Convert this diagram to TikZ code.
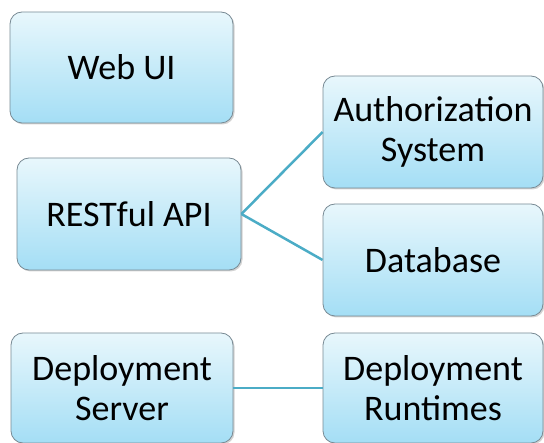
\documentclass[tikz,border=0pt]{standalone}
\usepackage{fontspec}
\setmainfont{Carlito}
\usetikzlibrary{shadows}
\definecolor{boxtop}{RGB}{232,247,252}
\definecolor{boxbottom}{RGB}{164,222,245}
\definecolor{boxline}{RGB}{120,138,148}
\definecolor{linkline}{RGB}{75,172,198}
\tikzset{
  part/.style={draw=boxline, line width=0.8pt, rounded corners=12pt,
    top color=boxtop, bottom color=boxbottom,
    drop shadow={shadow xshift=1.5pt, shadow yshift=-1.5pt, opacity=0.35},
    align=center, inner sep=0pt, font=\fontsize{36}{40}\selectfont},
  link/.style={draw=linkline, line width=2.5pt}
}
\begin{document}
\begin{tikzpicture}[x=1pt, y=-1pt]
  \useasboundingbox (0,0) rectangle (544,443);

  \node[part, minimum width=223pt, minimum height=111pt] (webui) at (121.5,67.5) {Web UI};
  \node[part, minimum width=224pt, minimum height=112pt] (rest) at (129,214) {RESTful API};
  \node[part, minimum width=220pt, minimum height=112pt] (auth) at (433,132) {Authorization\\System};
  \node[part, minimum width=220pt, minimum height=112pt] (db) at (433,260) {Database};
  \node[part, minimum width=222pt, minimum height=110pt] (depserver) at (122,388) {Deployment\\Server};
  \node[part, minimum width=220pt, minimum height=110pt] (runtimes) at (433,388) {Deployment\\Runtimes};

  \draw[link] (rest.east) -- (auth.west);
  \draw[link] (rest.east) -- (db.west);
  \draw[link] (depserver.east) -- (runtimes.west);
\end{tikzpicture}
\end{document}
